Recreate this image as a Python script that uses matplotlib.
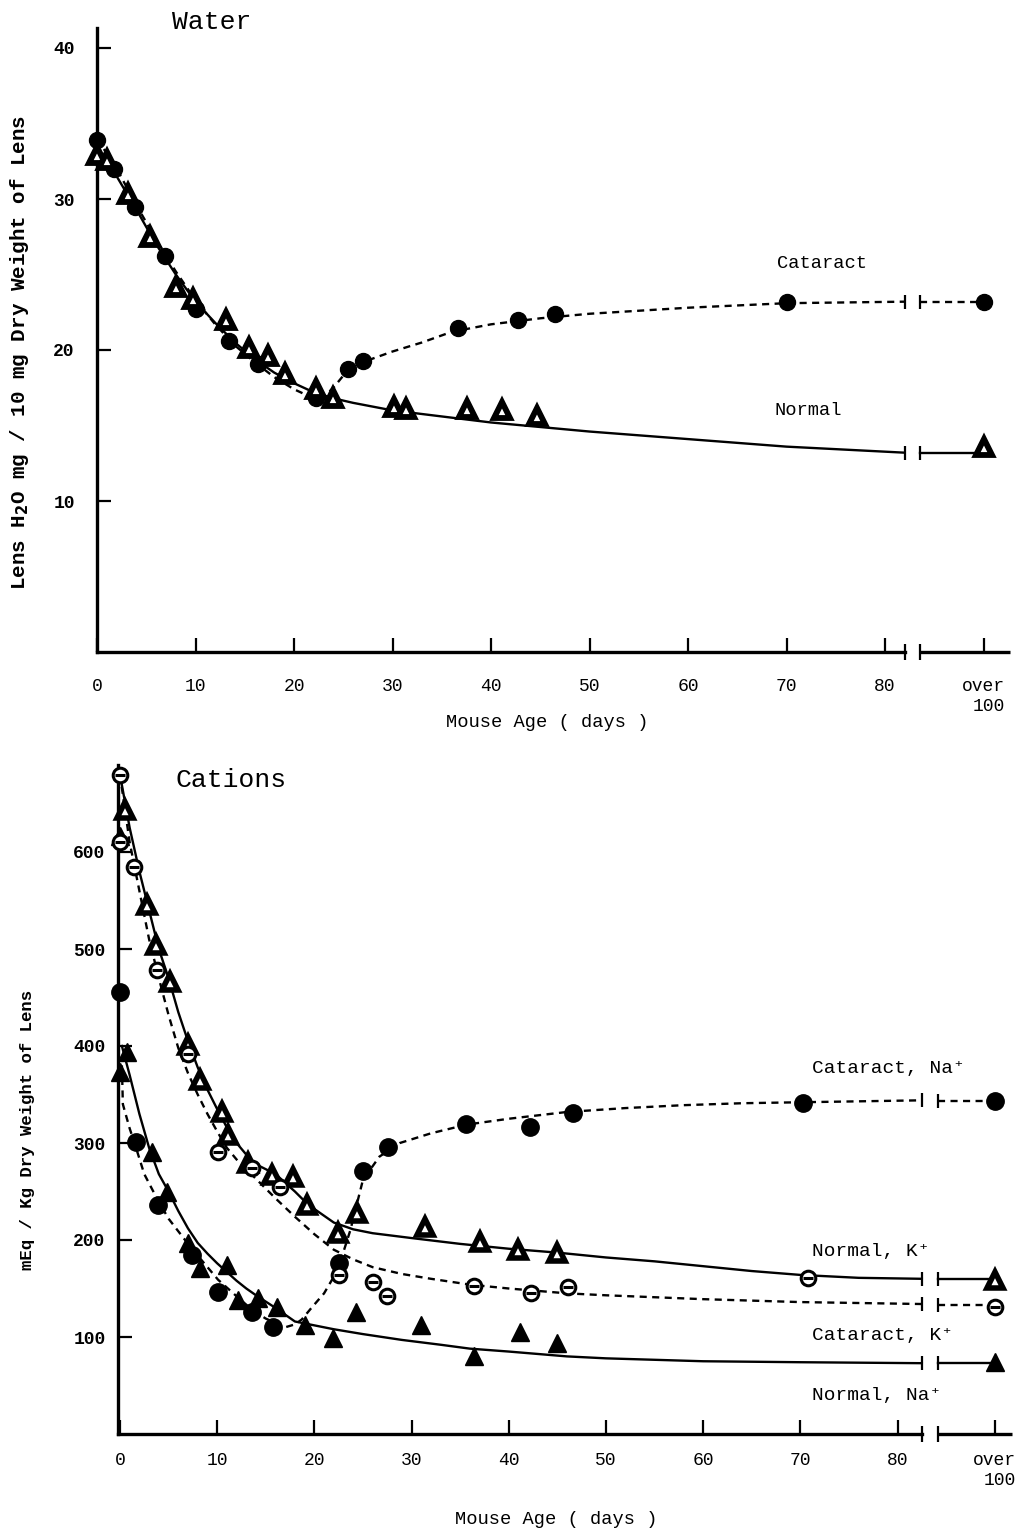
import numpy as np
import matplotlib
matplotlib.use('Agg')
import matplotlib.pyplot as plt

plt.rcParams['font.family'] = ['Liberation Mono', 'DejaVu Sans']

# ---------------- data: Water panel ----------------
water_cat_x = [0, 1.7, 3.9, 6.9, 10, 13.4, 16.3, 22.2, 25.5, 27, 36.6, 42.7, 46.5, 70, 90]
water_cat_y = [33.9, 32.0, 29.5, 26.2, 22.7, 20.6, 19.1, 16.8, 18.75, 19.3, 21.45, 22.0, 22.4, 23.2, 23.2]
water_norm_x = [0, 1, 3.1, 5.4, 8, 9.7, 13.1, 15.4, 17.4, 19.1, 22.2, 24, 30.2, 31.4, 37.6, 41.1, 44.7, 90]
water_norm_y = [32.9, 32.6, 30.3, 27.5, 24.2, 23.4, 22.0, 20.1, 19.6, 18.4, 17.4, 16.8, 16.2, 16.1, 16.1, 16.05, 15.6, 13.55]

# fitted curves (knots)
water_cat_cx = [0, 2, 4, 6, 8, 10, 12, 14, 16, 18, 20, 22, 23, 24, 25, 27, 30, 33, 36, 40, 45, 50, 55, 60, 70, 82]
water_cat_cy = [34.0, 32.0, 29.6, 27.3, 25.2, 23.3, 21.7, 20.3, 19.2, 18.2, 17.4, 16.8, 16.9, 17.5, 18.3, 19.2, 19.9, 20.5, 21.2, 21.7, 22.1, 22.4, 22.6, 22.8, 23.1, 23.2]
water_norm_cx = [0, 2, 4, 6, 8, 10, 12, 14, 16, 18, 20, 22, 24, 26, 30, 35, 40, 45, 50, 55, 60, 70, 82]
water_norm_cy = [33.0, 31.5, 29.3, 27.0, 25.0, 23.2, 21.8, 20.5, 19.4, 18.5, 17.8, 17.2, 16.8, 16.5, 16.0, 15.6, 15.2, 14.9, 14.6, 14.35, 14.1, 13.6, 13.2]
water_tail_cat = 23.2
water_tail_norm = 13.2

# ---------------- data: Cations panel ----------------
catna_x = [0, 1.7, 3.9, 7.4, 10.1, 13.6, 15.7, 22.5, 25, 27.6, 35.6, 42.2, 46.6, 70.3, 90]
catna_y = [456, 301, 236, 185, 146, 126, 110, 176, 271, 296, 320, 317, 331, 341, 343]
normk_x = [0.5, 2.8, 3.7, 5.1, 7, 8.2, 10.5, 11.1, 13.2, 15.6, 17.8, 19.2, 22.4, 24.4, 31.4, 37, 41, 45, 90]
normk_y = [643, 545, 504, 466, 401, 365, 332, 308, 279, 267, 265, 236, 207, 228, 213, 198, 190, 187, 159]
catk_x = [0, 0, 1.4, 3.8, 7, 10.1, 13.6, 16.5, 22.5, 26, 27.5, 36.4, 42.3, 46.1, 70.8, 90]
catk_y = [679, 610, 585, 478, 392, 291, 274, 255, 164, 157, 142, 153, 145, 152, 161, 131]
normna_x = [0, 0.7, 0, 3.3, 4.8, 7, 8.2, 11, 12.1, 14.2, 16.2, 19, 21.9, 24.3, 31, 36.4, 41.2, 45, 90]
normna_y = [617, 394, 373, 291, 250, 197, 171, 174, 138, 140, 131, 112, 99, 126, 112, 80, 105, 94, 74]

normk_cx = [0, 1, 2, 3, 4, 5, 6, 7, 8, 9, 10, 11, 12, 13, 14, 16, 18, 19, 20, 22, 24, 26, 30, 35, 40, 45, 50, 55, 60, 65, 70, 76, 82.5]
normk_cy = [680, 625, 580, 540, 500, 470, 435, 405, 378, 355, 335, 316, 300, 288, 278, 268, 250, 240, 232, 218, 211, 207, 202, 196, 191, 187, 182, 178, 173, 168, 164, 161, 160]
catk_cx = [0, 1, 2, 3, 4, 5, 6, 7, 8, 9, 10, 11, 12, 14, 16, 18, 20, 22, 24, 26, 29, 32, 36, 40, 46, 50, 60, 70, 82.5]
catk_cy = [680, 610, 560, 510, 470, 432, 398, 372, 350, 330, 312, 295, 283, 263, 243, 224, 206, 190, 180, 172, 165, 160, 154, 150, 145, 143, 139, 136, 134]
normna_cx = [0.2, 1, 2, 3, 4, 5, 6, 7, 8, 9, 10, 11, 12, 13, 14, 16, 18, 20, 22, 25, 29, 33, 36, 40, 46, 50, 60, 70, 82.5]
normna_cy = [400, 370, 330, 295, 268, 250, 230, 212, 197, 186, 176, 167, 158, 150, 143, 130, 116, 112, 108, 103, 97, 92, 88, 85, 80, 78, 75, 74, 73]
catna_cx = [0.2, 0.3, 1, 1.5, 2.5, 3.9, 5, 6.7, 8.5, 10.1, 12, 13.6, 15, 17, 18, 18.7, 19.7, 21, 22.4, 23.7, 25, 26.7, 28.8, 32, 35.7, 40, 46, 52, 58, 64, 70, 82.5]
catna_cy = [380, 340, 315, 300, 268, 241, 222, 200, 178, 159, 142, 128, 119, 110, 113, 118, 130, 145, 169, 210, 262, 286, 300, 310, 319, 325, 332, 336, 339, 341, 342, 344]
tail_catna = 343
tail_normk = 160
tail_catk = 133
tail_normna = 73

x_ticks = [0, 10, 20, 30, 40, 50, 60, 70, 80, 90]
x_ticklabels = ['0', '10', '20', '30', '40', '50', '60', '70', '80', 'over\n100']

W, H = 1021, 1533
fig = plt.figure(figsize=(W / 100, H / 100), dpi=100)

LW_AX = 2.4
DASH = (0, (3, 2.3))


def setup_axis(ax, xmax, brk_lo, brk_hi, yticks, ylabelpad, xlabelpad, ysize):
    for s in ['top', 'right']:
        ax.spines[s].set_visible(False)
    ax.spines['left'].set_linewidth(LW_AX)
    ax.spines['bottom'].set_linewidth(LW_AX)
    ax.spines['bottom'].set_bounds(ax.get_xlim()[0], brk_lo)
    ax.plot([brk_hi, xmax], [0, 0], color='k', lw=LW_AX, clip_on=False, solid_capstyle='butt')
    ax.plot([brk_lo, brk_hi], [0, 0], ls='none', marker='|', ms=11, mew=1.6, color='k', clip_on=False)
    ax.set_xticks(x_ticks)
    ax.set_xticklabels(x_ticklabels)
    for lab in ax.get_xticklabels():
        lab.set_multialignment('right')
    ax.set_yticks(yticks)
    ax.tick_params(axis='x', direction='in', length=10, width=1.6, pad=xlabelpad, labelsize=13)
    ax.tick_params(axis='y', direction='in', length=10, width=1.6, pad=ylabelpad, labelsize=ysize)
    for lab in ax.get_yticklabels():
        lab.set_fontweight('bold')


def curve(ax, cx, cy, tail_y, brk_hi, ls, end=90):
    ax.plot(cx, cy, color='k', lw=1.7, ls=ls, zorder=2)
    ax.plot([brk_hi, end], [tail_y, tail_y], color='k', lw=1.7, ls=ls, zorder=2)
    ax.plot([cx[-1], brk_hi], [cy[-1], tail_y], ls='none', marker='|', ms=10, mew=1.6, color='k', zorder=2)


# ---------------- Water panel ----------------
ax1 = fig.add_axes([97 / W, 1 - 652 / H, (1010 - 97) / W, (652 - 28) / H])
ax1.set_xlim(0, (1010 - 97) / 9.85)
ax1.set_ylim(0, 624 / 15.1)
setup_axis(ax1, (1010 - 97) / 9.85, 82, 83.6, [10, 20, 30, 40], 16, 19, 13)

curve(ax1, water_cat_cx, water_cat_cy, water_tail_cat, 83.6, DASH)
curve(ax1, water_norm_cx, water_norm_cy, water_tail_norm, 83.6, '-')
ax1.plot(water_cat_x, water_cat_y, ls='none', marker='o', ms=11.5, color='k', zorder=4, clip_on=False)
ax1.plot(water_norm_x, water_norm_y, ls='none', marker='^', ms=11, mfc='white', mec='k', mew=4.2, zorder=5, clip_on=False)

ax1.text(73.6, 25.7, 'Cataract', ha='center', va='center', fontsize=13.5)
ax1.text(72.2, 16.0, 'Normal', ha='center', va='center', fontsize=13.5)

fig.text(172 / W, 1 - 22 / H, 'Water', ha='left', va='center', fontsize=19)
fig.text(547 / W, 1 - 723 / H, 'Mouse Age ( days )', ha='center', va='center', fontsize=13.5)
fig.text(20 / W, 1 - 352 / H, r'Lens H$_\mathbf{2}$O mg / 10 mg Dry Weight of Lens', rotation=90,
         ha='center', va='center', fontsize=15, fontweight='bold')

# ---------------- Cations panel ----------------
ax2 = fig.add_axes([118 / W, 1 - 1434 / H, (1012 - 118) / W, (1434 - 765) / H])
x2max = -0.2 + (1012 - 118) / 9.72
ax2.set_xlim(-0.2, x2max)
ax2.set_ylim(0, 669 / 0.97)
setup_axis(ax2, x2max, 82.5, 84.2, [100, 200, 300, 400, 500, 600], 9, 13, 13)

curve(ax2, catna_cx, catna_cy, tail_catna, 84.2, DASH)
curve(ax2, normk_cx, normk_cy, tail_normk, 84.2, '-')
curve(ax2, catk_cx, catk_cy, tail_catk, 84.2, DASH)
curve(ax2, normna_cx, normna_cy, tail_normna, 84.2, '-')

ax2.plot(catna_x, catna_y, ls='none', marker='o', ms=12.5, color='k', zorder=4, clip_on=False)
ax2.plot(normna_x, normna_y, ls='none', marker='^', ms=12.5, color='k', zorder=4, clip_on=False)
ax2.plot(normk_x, normk_y, ls='none', marker='^', ms=11.5, mfc='white', mec='k', mew=4.0, zorder=5, clip_on=False)
ax2.plot(catk_x, catk_y, ls='none', marker='o', ms=10.5, mfc='white', mec='k', mew=2.2, zorder=6, clip_on=False)
ax2.plot(catk_x, catk_y, ls='none', marker='_', ms=7, mew=2.2, color='k', zorder=7, clip_on=False)

lab_fam = ['Liberation Mono', 'DejaVu Sans Mono', 'DejaVu Sans']
ax2.text(71.2, 377, 'Cataract, Na⁺', ha='left', va='center', fontsize=14, family=lab_fam)
ax2.text(71.2, 188, 'Normal, K⁺', ha='left', va='center', fontsize=14, family=lab_fam)
ax2.text(71.2, 102, 'Cataract, K⁺', ha='left', va='center', fontsize=14, family=lab_fam)
ax2.text(71.2, 40, 'Normal, Na⁺', ha='left', va='center', fontsize=14, family=lab_fam)

fig.text(175 / W, 1 - 780 / H, 'Cations', ha='left', va='center', fontsize=19)
fig.text(556 / W, 1 - 1520 / H, 'Mouse Age ( days )', ha='center', va='center', fontsize=13.5)
fig.text(28 / W, 1 - 1130 / H, 'mEq / Kg Dry Weight of Lens', rotation=90,
         ha='center', va='center', fontsize=12.5, fontweight='bold')

fig.savefig('out.png', dpi=100, facecolor='white')
